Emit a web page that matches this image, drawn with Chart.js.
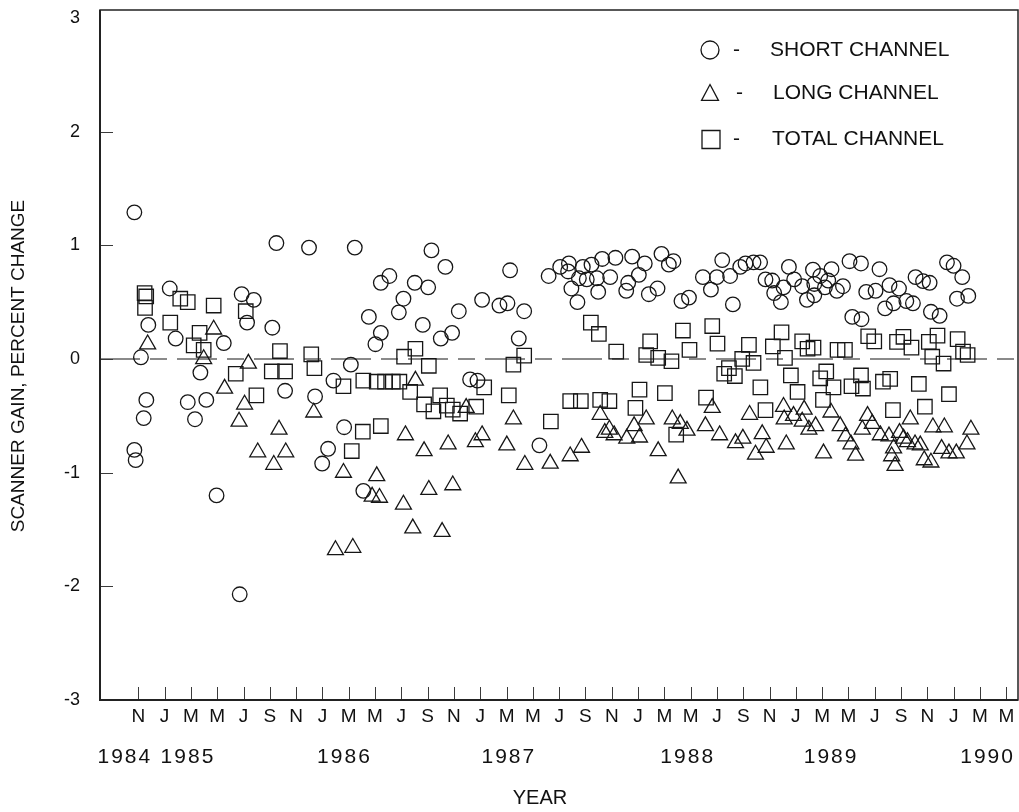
<!DOCTYPE html>
<html>
<head>
<meta charset="utf-8">
<title>Scanner gain, percent change</title>
<script src="https://cdn.jsdelivr.net/npm/chart.js@4.4.0/dist/chart.umd.min.js"></script>
<style>
  html, body { margin: 0; padding: 0; background: #fff; }
  #wrap { width: 1019px; height: 812px; }
</style>
</head>
<body>
<div id="wrap"><canvas id="gainChart" width="1019" height="812"></canvas></div>
<script>
// Data - x is months counted from Jan 1984 (10 = Nov 1984, 12 = Jan 1985 ...)

// Short channel (circles)
const shortX = [9.70, 9.70, 9.80, 10.20, 10.41, 10.61, 10.76, 12.39, 12.84, 13.76, 14.31, 14.72, 15.17, 15.95, 16.50, 17.71, 17.86, 18.27, 18.78, 20.19, 20.50, 21.16, 22.98, 23.44,
  23.98, 24.43, 24.84, 25.65, 26.16, 26.46, 27.11, 27.53, 28.03, 28.44, 28.44, 29.09, 29.81, 30.16, 31.02, 31.63, 32.04, 32.29, 33.00, 33.35, 33.86, 34.37, 35.23, 35.79, 36.14, 37.46, 38.07, 38.27, 38.93, 39.34,
  40.50, 41.20, 42.08, 42.68, 42.74, 42.93, 43.39, 43.50, 43.80, 44.10, 44.46, 44.87, 44.97, 45.27, 45.88, 46.28, 47.10, 47.25, 47.55, 48.06, 48.51, 48.82, 49.48, 49.78, 50.34, 50.69, 51.30, 51.87, 52.93, 53.54, 53.99, 54.40, 55.00, 55.21, 55.77, 56.17, 56.78,
  57.28, 57.69, 58.20, 58.35, 58.86, 59.06, 59.47, 59.87, 60.48, 60.84, 61.30, 61.40, 61.40, 61.85, 62.21, 62.46, 62.71, 63.12, 63.58, 64.08, 64.29, 64.95, 64.99, 65.35, 66.06, 66.36, 66.78, 67.12, 67.43, 67.84, 68.40, 68.90, 69.10, 69.67, 70.17, 70.27, 70.93, 71.49, 71.99, 72.25, 72.65, 73.11];
const shortY = [1.29, -0.80, -0.89, 0.015, -0.52, -0.36, 0.30, 0.62, 0.18, -0.38, -0.53, -0.12, -0.36, -1.20, 0.14, -2.07, 0.57, 0.32, 0.52, 0.275, 1.02, -0.28, 0.98, -0.33,
  -0.92, -0.79, -0.19, -0.60, -0.05, 0.98, -1.16, 0.37, 0.13, 0.67, 0.23, 0.73, 0.41, 0.53, 0.67, 0.30, 0.63, 0.955, 0.18, 0.81, 0.23, 0.42, -0.18, -0.19, 0.52, 0.47, 0.49, 0.78, 0.18, 0.42,
  -0.76, 0.73, 0.81, 0.77, 0.84, 0.62, 0.50, 0.71, 0.81, 0.70, 0.83, 0.71, 0.59, 0.88, 0.72, 0.89, 0.60, 0.67, 0.90, 0.74, 0.84, 0.57, 0.62, 0.925, 0.83, 0.86, 0.51, 0.54, 0.72, 0.61, 0.72, 0.87, 0.73, 0.48, 0.81, 0.84, 0.85,
  0.85, 0.70, 0.69, 0.58, 0.50, 0.63, 0.81, 0.70, 0.64, 0.52, 0.785, 0.66, 0.56, 0.73, 0.63, 0.69, 0.79, 0.60, 0.64, 0.86, 0.37, 0.84, 0.35, 0.59, 0.60, 0.79, 0.445, 0.65, 0.49, 0.62, 0.51, 0.49, 0.72, 0.685, 0.67, 0.415, 0.38, 0.85, 0.82, 0.53, 0.72, 0.555];

// Long channel (triangles)
const longX = [10.71, 14.97, 15.73, 16.56, 17.66, 18.08, 18.37, 19.08, 20.30, 20.70, 21.21, 23.34,
  24.99, 25.60, 26.31, 27.78, 28.13, 28.34, 30.16, 30.31, 30.87, 31.07, 31.73, 32.09, 33.10, 33.56, 33.91, 34.93, 35.63, 36.14, 38.02, 38.52, 39.39,
  41.32, 42.84, 43.70, 45.12, 45.47, 45.82, 46.18, 47.14, 47.70, 48.11, 48.62, 49.53, 50.60, 51.05, 51.21, 51.72, 53.12, 53.64, 54.20, 55.41, 55.97, 56.48, 56.93,
  57.44, 57.74, 59.06, 59.11, 59.27, 59.82, 60.48, 60.63, 60.99, 61.50, 62.10, 62.67, 63.37, 63.78, 64.19, 64.54, 65.05, 65.45, 65.81, 66.42, 67.08, 67.28, 67.43, 67.54, 67.88, 68.19, 68.49, 68.70, 69.06, 69.46, 69.76, 70.27, 70.42, 71.08, 71.29, 71.64, 72.20, 73.01, 73.31];
const longY = [0.13, 0.00, 0.26, -0.26, -0.55, -0.40, -0.04, -0.82, -0.93, -0.62, -0.82, -0.47,
  -1.68, -1.00, -1.66, -1.21, -1.03, -1.22, -1.28, -0.67, -1.49, -0.19, -0.81, -1.15, -1.52, -0.75, -1.11, -0.43, -0.73, -0.67, -0.76, -0.53, -0.93,
  -0.92, -0.855, -0.78, -0.49, -0.65, -0.62, -0.67, -0.70, -0.59, -0.69, -0.53, -0.81, -0.53, -1.05, -0.57, -0.63, -0.59, -0.43, -0.67, -0.74, -0.70, -0.49, -0.84,
  -0.66, -0.78, -0.42, -0.53, -0.75, -0.50, -0.55, -0.445, -0.62, -0.59, -0.83, -0.47, -0.59, -0.68, -0.75, -0.85, -0.62, -0.50, -0.57, -0.67, -0.68, -0.855, -0.785, -0.94, -0.65, -0.70, -0.73, -0.53, -0.75, -0.76, -0.89, -0.91, -0.60, -0.79, -0.60, -0.83, -0.83, -0.75, -0.62];

// Total channel (squares)
const totalX = [10.48, 10.51, 10.60, 12.43, 13.19, 13.76, 14.21, 14.66, 14.97, 15.73, 17.41, 18.17, 18.98, 20.15, 20.77, 21.16, 23.15, 23.39,
  25.60, 26.23, 27.07, 27.11, 28.13, 28.44, 28.76, 29.35, 29.85, 30.21, 30.67, 31.07, 31.73, 32.09, 32.44, 32.95, 33.46, 33.91, 34.47, 35.69, 36.30, 38.17, 38.52, 39.34,
  41.37, 42.84, 43.65, 44.41, 45.02, 45.12, 45.82, 46.34, 47.80, 48.11, 48.62, 48.92, 49.53, 50.04, 50.54, 50.90, 51.41, 51.91, 53.17, 53.64, 54.04, 54.55, 54.91, 55.36, 55.92, 56.43, 56.78,
  57.30, 57.69, 58.25, 58.91, 59.17, 59.62, 60.13, 60.48, 60.89, 61.34, 61.85, 62.06, 62.31, 62.86, 63.17, 63.73, 64.23, 64.95, 65.10, 65.50, 65.96, 66.62, 67.17, 67.38, 67.69, 68.18, 68.79, 69.35, 69.81, 70.11, 70.37, 70.77, 71.23, 71.64, 72.30, 72.71, 73.06];
const totalY = [0.58, 0.45, 0.55, 0.32, 0.53, 0.50, 0.12, 0.23, 0.08, 0.47, -0.13, 0.42, -0.32, -0.11, 0.07, -0.11, 0.04, -0.08,
  -0.24, -0.81, -0.64, -0.19, -0.20, -0.59, -0.20, -0.20, -0.20, 0.02, -0.29, 0.09, -0.40, -0.06, -0.46, -0.32, -0.41, -0.445, -0.48, -0.42, -0.25, -0.32, -0.05, 0.03,
  -0.55, -0.37, -0.37, 0.32, 0.22, -0.36, -0.37, 0.065, -0.43, -0.27, 0.035, 0.155, 0.01, -0.30, -0.02, -0.665, 0.25, 0.08, -0.34, 0.29, 0.135, -0.13, -0.08, -0.15, 0.00, 0.125, -0.035,
  -0.25, -0.45, 0.11, 0.235, 0.01, -0.145, -0.29, 0.155, 0.09, 0.10, -0.17, -0.36, -0.11, -0.25, 0.08, 0.08, -0.24, -0.145, -0.26, 0.20, 0.155, -0.20, -0.175, -0.45, 0.15, 0.195, 0.10, -0.22, -0.42, 0.15, 0.02, 0.205, -0.04, -0.31, 0.175, 0.065, 0.035];

// Axis ticks
const monthTickAt = [10, 12, 14, 16, 18, 20, 22, 24, 26, 28, 30, 32, 34, 36, 38, 40, 42, 44, 46, 48, 50, 52, 54, 56, 58, 60, 62, 64, 66, 68, 70, 72, 74, 76];
const monthTickLabels = ['N', 'J', 'M', 'M', 'J', 'S', 'N', 'J', 'M', 'M', 'J', 'S', 'N', 'J', 'M', 'M', 'J', 'S',
  'N', 'J', 'M', 'M', 'J', 'S', 'N', 'J', 'M', 'M', 'J', 'S', 'N', 'J', 'M', 'M'];
const yearLabelAt = [8.9, 13.7, 25.6, 38.1, 51.7, 62.6, 74.5];
const yearLabels = ['1984', '1985', '1986', '1987', '1988', '1989', '1990'];
const gainTicks = [-3, -2, -1, 0, 1, 2, 3];

const X_MIN = 7.087, X_MAX = 76.89;
const FONT = "'Liberation Sans', Arial, Helvetica, sans-serif";
const INK = '#161616';

Chart.defaults.font.family = FONT;
Chart.defaults.color = '#111';

const toPoints = (xs, ys) => xs.map((x, i) => ({ x: x, y: ys[i] }));

// Legend rows: marker, dash, text
const legendRows = [
    { style: 'circle', text: 'SHORT CHANNEL', mx: 710, my: 50, dash: 736, tx: 770 },
    { style: 'triangle', text: 'LONG CHANNEL', mx: 710, my: 93, dash: 739, tx: 773 },
    { style: 'rect', text: 'TOTAL CHANNEL', mx: 711, my: 139.5, dash: 736, tx: 772 }
];

function drawMarker(ctx, style, x, y, size) {
    ctx.beginPath();
    if (style === 'circle') {
        ctx.arc(x, y, size / 2, 0, Math.PI * 2);
    } else if (style === 'triangle') {
        ctx.moveTo(x, y - size * 0.47);
        ctx.lineTo(x + size * 0.47, y + size * 0.41);
        ctx.lineTo(x - size * 0.47, y + size * 0.41);
        ctx.closePath();
    } else {
        ctx.rect(x - size / 2, y - size / 2, size, size);
    }
    ctx.stroke();
}

// Frame, inward ticks, year labels, titles, legend
const framePlugin = {
    id: 'frame',
    afterDraw(chart) {
        const { ctx, chartArea: a, scales } = chart;
        const xs = scales.x, ys = scales.y;
        ctx.save();

        // inward tick marks
        ctx.strokeStyle = '#3a3a3a';
        ctx.lineWidth = 1;
        ctx.beginPath();
        monthTickAt.forEach(v => {
            const px = Math.round(xs.getPixelForValue(v)) + 0.5;
            ctx.moveTo(px, a.bottom);
            ctx.lineTo(px, a.bottom - 13);
        });
        gainTicks.filter(v => v > -3 && v < 3).forEach(v => {
            const py = Math.round(ys.getPixelForValue(v)) + 0.5;
            ctx.moveTo(a.left, py);
            ctx.lineTo(a.left + 13, py);
        });
        ctx.stroke();

        // box
        ctx.strokeStyle = '#222';
        ctx.lineWidth = 1.5;
        ctx.strokeRect(a.left, a.top, a.right - a.left, a.bottom - a.top);
        ctx.lineWidth = 2;
        ctx.beginPath();
        ctx.moveTo(a.left, a.top);
        ctx.lineTo(a.left, a.bottom);
        ctx.lineTo(a.right, a.bottom);
        ctx.stroke();

        // year labels
        ctx.fillStyle = '#111';
        ctx.textAlign = 'center';
        ctx.textBaseline = 'middle';
        ctx.font = '21px ' + FONT;
        ctx.letterSpacing = '2px';
        yearLabels.forEach((t, i) => {
            ctx.fillText(t, xs.getPixelForValue(yearLabelAt[i]) + 1, a.bottom + 57);
        });
        ctx.letterSpacing = '0px';

        // axis titles
        ctx.font = '20px ' + FONT;
        ctx.fillText('YEAR', (a.left + a.right) / 2 - 19, a.bottom + 98);
        ctx.save();
        ctx.translate(19, (a.top + a.bottom) / 2 + 11);
        ctx.rotate(-Math.PI / 2);
        ctx.font = '19px ' + FONT;
        ctx.fillText('SCANNER GAIN, PERCENT CHANGE', 0, 0);
        ctx.restore();

        // legend
        ctx.strokeStyle = INK;
        ctx.lineWidth = 1.3;
        ctx.textAlign = 'left';
        ctx.font = '21px ' + FONT;
        legendRows.forEach(r => {
            drawMarker(ctx, r.style, r.mx, r.my, 18);
            ctx.fillText('-', r.dash - 3, r.my);
            ctx.fillText(r.text, r.tx, r.my);
        });

        ctx.restore();
    }
};

const markerBase = {
    borderColor: INK,
    backgroundColor: 'rgba(0,0,0,0)',
    borderWidth: 1.3,
    pointBorderWidth: 1.3
};

const gainChart = new Chart(document.getElementById('gainChart'), {
    type: 'scatter',
    data: {
        datasets: [
            Object.assign({ label: 'SHORT CHANNEL', data: toPoints(shortX, shortY), pointStyle: 'circle', pointRadius: 7.3 }, markerBase),
            Object.assign({ label: 'LONG CHANNEL', data: toPoints(longX, longY), pointStyle: 'triangle', pointRadius: 9.2 }, markerBase),
            Object.assign({ label: 'TOTAL CHANNEL', data: toPoints(totalX, totalY), pointStyle: 'rect', pointRadius: 10.2 }, markerBase),
            {
                type: 'line',
                label: 'zero',
                data: [{ x: X_MIN, y: 0 }, { x: X_MAX, y: 0 }],
                borderColor: INK,
                borderWidth: 1.2,
                borderDash: [40, 10, 17, 10],
                pointRadius: 0,
                fill: false
            }
        ]
    },
    options: {
        responsive: false,
        animation: false,
        events: [],
        layout: { autoPadding: false, padding: { top: 10, right: 1, left: 0, bottom: 0 } },
        plugins: {
            legend: { display: false },
            tooltip: { enabled: false }
        },
        scales: {
            x: {
                type: 'linear',
                min: X_MIN,
                max: X_MAX,
                grid: { display: false, drawTicks: false },
                border: { display: false },
                afterBuildTicks: s => { s.ticks = monthTickAt.map(v => ({ value: v })); },
                afterFit: s => {
                    s.height = 112;
                    s.paddingLeft = 0;
                    s.paddingRight = 0;
                },
                ticks: {
                    autoSkip: false,
                    maxRotation: 0,
                    minRotation: 0,
                    padding: 5,
                    color: '#111',
                    font: { size: 19 },
                    callback: (v, i) => monthTickLabels[i]
                }
            },
            y: {
                min: -3,
                max: 3.07,
                grid: { display: false, drawTicks: false },
                border: { display: false },
                afterBuildTicks: s => { s.ticks = gainTicks.map(v => ({ value: v })); },
                afterFit: s => {
                    s.width = 100;
                    s.paddingTop = 0;
                    s.paddingBottom = 0;
                },
                ticks: {
                    padding: 20,
                    color: '#111',
                    font: { size: 18, lineHeight: 1 },
                    callback: v => String(v)
                }
            }
        }
    },
    plugins: [framePlugin]
});
</script>
</body>
</html>
